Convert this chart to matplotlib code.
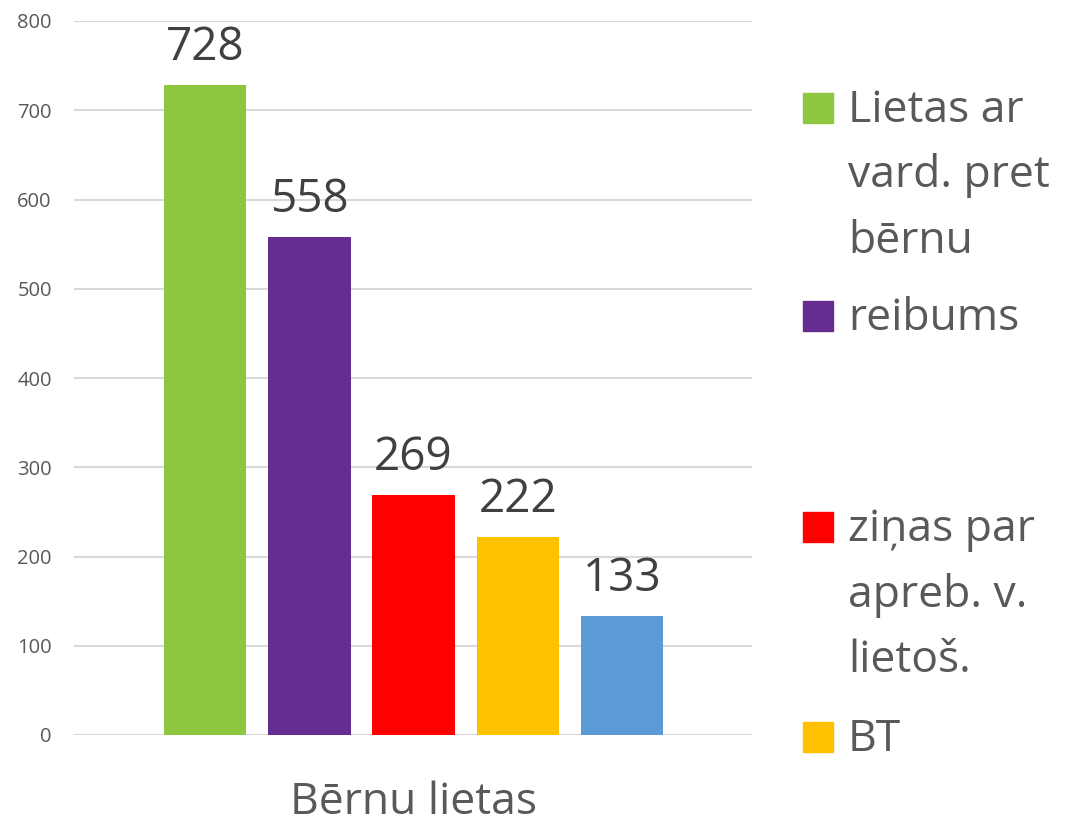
import matplotlib.pyplot as plt
from matplotlib.patches import Rectangle

plt.rcParams['font.family'] = ['Open Sans', 'DejaVu Sans']

# case counts
categories = ["Lietas ar\nvard. pret\nbērnu", "reibums", "ziņas par\napreb. v.\nlietoš.", "BT", "citi"]
values = [728, 558, 269, 222, 133]
colors = ["#8dc63f", "#662d91", "#ff0000", "#ffc000", "#5b9bd5"]
group_label = "Bērnu lietas"
yticks = [0, 100, 200, 300, 400, 500, 600, 700, 800]

W, H = 1068, 823
fig = plt.figure(figsize=(W / 100, H / 100), dpi=100)
ax = fig.add_axes([74 / W, 1 - 735 / H, (752 - 74) / W, (735 - 21) / H])

x = list(range(len(values)))
bars = ax.bar(x, values, width=0.79, color=colors, zorder=3)

for b, v in zip(bars, values):
    ax.text(b.get_x() + b.get_width() / 2, v + 28, str(v), ha='center', va='baseline',
            fontsize=33, color='#404040')

ax.set_xlim(-1.26, 5.25)
ax.set_ylim(0, 800)
ax.set_yticks(yticks)
ax.set_yticklabels([str(t) for t in yticks], fontsize=14.5, color='#595959')
ax.set_xticks([])
ax.tick_params(axis='y', length=0, pad=16)
ax.grid(axis='y', color='#d9d9d9', linewidth=1.5, zorder=0)
for s in ax.spines.values():
    s.set_visible(False)

fig.text((74 + 752) / 2 / W, 1 - 814 / H, group_label, ha='center', va='baseline',
         fontsize=32, color='#595959')

# legend: only the first four entries fit; lines placed one by one
legend_tops = [93, 301, 512, 722]
line_step = 65.5
for label, col, top in zip(categories[:4], colors[:4], legend_tops):
    fig.patches.append(Rectangle((803 / W, 1 - (top + 30) / H), 30 / W, 30 / H,
                                 transform=fig.transFigure, color=col))
    for i, line in enumerate(label.split("\n")):
        base = top + 29 + i * line_step
        fig.text(848 / W, 1 - base / H, line, ha='left', va='baseline',
                 fontsize=32, color='#595959')

fig.savefig("out.png", dpi=100)
